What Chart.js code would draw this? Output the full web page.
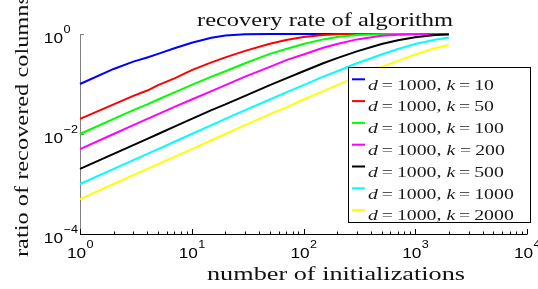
<!DOCTYPE html>
<html><head><meta charset="utf-8">
<script src="https://cdn.jsdelivr.net/npm/chart.js@4/dist/chart.umd.min.js"></script>
<style>html,body{margin:0;padding:0;background:#fff;overflow:hidden}canvas{display:block}</style>
</head><body>
<canvas id="c" width="538" height="289"></canvas>
<script>
// ---- data ----
const nInit = [1,2,3,4,5,7,10,15,20,30,50,70,100,150,200,300,500,700,1000,1500,2000];
const k10   = [0.10,0.20,0.28,0.34,0.40,0.52,0.67,0.84,0.93,0.99,1,1,1,1,1,1,1,1,1,1,1];
const k50   = [0.02,0.039,0.058,0.074,0.095,0.13,0.19,0.27,0.34,0.46,0.64,0.76,0.87,0.95,0.985,0.998,1,1,1,1,1];
const k100  = [0.01,0.02,0.03,0.039,0.049,0.068,0.096,0.14,0.18,0.26,0.40,0.50,0.63,0.78,0.87,0.95,0.99,1,1,1,1];
const k200  = [0.005,0.01,0.015,0.02,0.025,0.035,0.049,0.072,0.095,0.14,0.22,0.30,0.39,0.53,0.63,0.78,0.92,0.97,0.99,1,1];
const k500  = [0.002,0.004,0.006,0.008,0.01,0.014,0.02,0.03,0.039,0.058,0.095,0.13,0.18,0.26,0.33,0.45,0.63,0.75,0.86,0.95,0.98];
const k1000 = [0.001,0.002,0.003,0.004,0.005,0.007,0.01,0.015,0.02,0.03,0.049,0.068,0.095,0.14,0.18,0.26,0.39,0.50,0.63,0.77,0.85];
const k2000 = [0.0005,0.001,0.0015,0.002,0.0025,0.0035,0.005,0.0075,0.01,0.015,0.025,0.034,0.049,0.072,0.095,0.14,0.22,0.29,0.39,0.52,0.60];
const seriesValues = [k10,k50,k100,k200,k500,k1000,k2000];
const kLabels = ['10','50','100','200','500','1000','2000'];
const dLabel = '1000';
const colors = ['#0000ff','#ff0000','#00ff00','#ff00ff','#000000','#00ffff','#ffff00'];
const xTickExp = [0,1,2,3,4];
const yTickExp = [0,-2,-4];
const titleText = 'recovery rate of algorithm';
const xTitle = 'number of initializations';
const yTitle = 'ratio of recovered columns';

const datasets = seriesValues.map((vals,i)=>({
  label: 'd = '+dLabel+', k = '+kLabels[i],
  data: nInit.map((x,j)=>({x:x,y:vals[j]})),
  borderColor: colors[i], backgroundColor: colors[i],
  borderWidth: 2, pointRadius: 0, fill: false, tension: 0,
  clip: 4, order: seriesValues.length - i
}));

function stretchText(ctx, text, x, y, font, width, align){
  ctx.font = font;
  const m = ctx.measureText(text).width;
  const sx = width ? width/m : 1;
  ctx.save(); ctx.translate(x,y); ctx.scale(sx,1);
  ctx.textAlign='left'; ctx.textBaseline='alphabetic';
  let ox = 0;
  if (align==='center') ox = -m/2; else if (align==='right') ox = -m;
  ctx.fillText(text, ox, 0);
  ctx.restore();
  return m*sx;
}

const SANS = '"Liberation Sans", Arial, sans-serif';
const SERIF = '"Liberation Serif", "Times New Roman", serif';
const TSX = 1.15;

const axesPlugin = {
  id:'axesDeco',
  beforeDatasetsDraw(chart){
    const ctx = chart.ctx, a = chart.chartArea;
    const xs = chart.scales.x, ys = chart.scales.y;
    ctx.save();
    ctx.strokeStyle = '#808080'; ctx.lineWidth = 1;
    ctx.beginPath(); ctx.moveTo(a.left+0.5, a.top); ctx.lineTo(a.left+0.5, a.bottom); ctx.stroke();
    yTickExp.forEach(e=>{
      const y = Math.round(ys.getPixelForValue(Math.pow(10,e)))+0.5;
      ctx.beginPath(); ctx.moveTo(a.left, y); ctx.lineTo(a.left+4, y); ctx.stroke();
    });
    ctx.strokeStyle = '#000';
    ctx.beginPath(); ctx.moveTo(a.left, a.bottom+0.5); ctx.lineTo(a.right+0.5, a.bottom+0.5); ctx.stroke();
    for (let e=0; e<=4; e++){
      const x = Math.round(xs.getPixelForValue(Math.pow(10,e)))+0.5;
      ctx.beginPath(); ctx.moveTo(x, a.bottom); ctx.lineTo(x, a.bottom-5); ctx.stroke();
      if (e<4) for (let m=2;m<=9;m++){
        const xm = Math.round(xs.getPixelForValue(m*Math.pow(10,e)))+0.5;
        ctx.beginPath(); ctx.moveTo(xm, a.bottom); ctx.lineTo(xm, a.bottom-2.5); ctx.stroke();
      }
    }
    ctx.restore();
  },
  afterDraw(chart){
    const ctx = chart.ctx, a = chart.chartArea;
    const xs = chart.scales.x, ys = chart.scales.y;
    ctx.save();
    ctx.fillStyle = '#000';
    xTickExp.forEach(e=>{
      const x = xs.getPixelForValue(Math.pow(10,e));
      ctx.font = '15px '+SANS;
      const wb = ctx.measureText('10').width*TSX;
      ctx.font = '11px '+SANS;
      const sup = String(e).replace('-','\u2212');
      const ws = ctx.measureText(sup).width*TSX;
      const x0 = x - (wb+ws)/2;
      stretchText(ctx,'10',x0,258,'15px '+SANS,wb,'left');
      stretchText(ctx,sup,x0+wb+0.5,248,'11px '+SANS,ws,'left');
    });
    yTickExp.forEach(e=>{
      const y = ys.getPixelForValue(Math.pow(10,e));
      ctx.font = '15px '+SANS;
      const wb = ctx.measureText('10').width*TSX;
      ctx.font = '11px '+SANS;
      const sup = String(e).replace('-','\u2212');
      const ws = ctx.measureText(sup).width*TSX;
      stretchText(ctx,'10',63-wb,y+8.5,'15px '+SANS,wb,'left');
      stretchText(ctx,sup,63.5,y-1.5,'11px '+SANS,ws,'left');
    });
    ctx.fillStyle = '#111';
    stretchText(ctx,titleText,197,25.5,'19px '+SERIF,256,'left');
    stretchText(ctx,xTitle,207,279.5,'19px '+SERIF,258,'left');
    ctx.save(); ctx.translate(28,257); ctx.rotate(-Math.PI/2);
    stretchText(ctx,yTitle,0,0,'19px '+SERIF,262,'left');
    ctx.restore();
    // legend
    const bx=348.5, by=67.5, bw=182, bh=155;
    ctx.fillStyle='#fff'; ctx.fillRect(bx,by,bw,bh);
    ctx.strokeStyle='#000'; ctx.lineWidth=1; ctx.strokeRect(bx,by,bw,bh);
    const FS = 14;
    const fontN = FS+'px '+SERIF, fontI = 'italic '+FS+'px '+SERIF;
    const sp = '\u2009';
    const pieces = (k,i)=>[['d',fontI],[sp+'='+sp+dLabel+', ',fontN],['k',fontI],[(i===3?' ':sp)+'='+sp+k,fontN]];
    const natW = (ps)=>ps.reduce((s,p)=>{ctx.font=p[1];return s+ctx.measureText(p[0]).width;},0);
    const sx = 126/natW(pieces(kLabels[0],0));
    chart.data.datasets.forEach((ds,i)=>{
      const ly = 79.3 + i*21.8, ty = 89.5 + i*21.8;
      ctx.strokeStyle = ds.borderColor; ctx.lineWidth = 2;
      ctx.beginPath(); ctx.moveTo(352,ly); ctx.lineTo(365,ly); ctx.stroke();
      ctx.fillStyle = '#1a1a1a';
      ctx.save(); ctx.translate(368,ty); ctx.scale(sx,1);
      let x=0;
      pieces(kLabels[i],i).forEach(p=>{ctx.font=p[1]; ctx.textAlign='left'; ctx.fillText(p[0],x,0); x+=ctx.measureText(p[0]).width;});
      ctx.restore();
    });
    ctx.restore();
  }
};

new Chart(document.getElementById('c'),{
  type:'line',
  data:{datasets:datasets},
  options:{
    responsive:false, animation:false, devicePixelRatio:1,
    layout:{padding:{left:80,top:34,right:11,bottom:55}},
    scales:{
      x:{type:'logarithmic',min:1,max:10000,display:false},
      y:{type:'logarithmic',min:1e-4,max:1,display:false}
    },
    plugins:{legend:{display:false},title:{display:false},tooltip:{enabled:false}}
  },
  plugins:[axesPlugin]
});
</script>
</body></html>
